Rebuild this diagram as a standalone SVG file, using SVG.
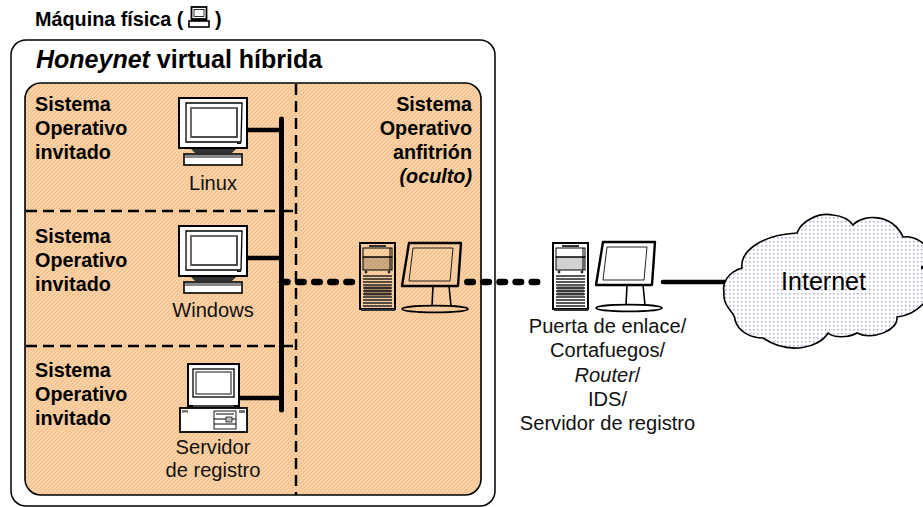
<svg xmlns="http://www.w3.org/2000/svg" xmlns:xlink="http://www.w3.org/1999/xlink" width="923" height="507" viewBox="0 0 923 507">
<style>
text{font-family:"Liberation Sans",Arial,sans-serif;fill:#000}
.b{font-weight:bold;font-size:19.8px}
.n{font-size:20.1px;text-anchor:middle;fill:#111}
.k{fill:none;stroke:#000}
.w{fill:#fff;stroke:#000}
.dash{fill:none;stroke:#000;stroke-width:2.5;stroke-dasharray:11 6}
</style>
<defs>
<pattern id="hatch" width="4" height="4" patternUnits="userSpaceOnUse">
<rect width="4" height="4" fill="#FFCF9E"/>
<path d="M-1 1L1 -1M0 4L4 0M3 5L5 3" stroke="#D2B998" stroke-width=".7"/>
</pattern>
<pattern id="dots" width="4" height="4" patternUnits="userSpaceOnUse">
<rect width="4" height="4" fill="#fff"/>
<rect x="1" y="1" width="1.5" height="1.5" fill="#A8A8D4"/>
</pattern>
<g id="crt">
<rect x="0" y="0" width="68" height="50" class="w" stroke-width="2"/>
<path d="M7 5H63L62 44H7Z" class="w" stroke-width="1.3"/>
<rect x="12" y="10" width="46" height="29" fill="#fff" stroke="#222" stroke-width="1.6"/>
<path d="M12 39V10H58" fill="none" stroke="#888" stroke-width="1"/>
<rect x="58" y="45" width="4" height="1" fill="#000"/>
</g>
<g id="tower">
<rect x="0" y="0" width="35" height="66" fill="none" stroke="#000" stroke-width="2"/>
<rect x="9" y="2" width="17" height="2" fill="#333"/>
<rect x="3" y="5" width="29" height="9" fill="none" stroke="#000" stroke-width="1"/>
<rect x="3" y="14" width="29" height="13" fill="#000" fill-opacity=".18" stroke="#000" stroke-width="1"/>
<path d="M30 5V27" stroke="#000" stroke-width="1"/>
<circle cx="6" cy="29" r="1.4" fill="#222"/><circle cx="29" cy="29" r="1.4" fill="#222"/>
<path d="M3 33H32M3 36H32M3 39H32M3 42H32M3 45H32M3 48H32M3 51H32M3 54H32M3 57H32M3 60H32M3 63H32" stroke="#222" stroke-width="1.6"/>
<rect x="4" y="43" width="27" height="10" fill="#000" fill-opacity=".35"/>
<rect x="1" y="66" width="34" height="2" fill="#333"/>
</g>
<g id="lcd">
<path d="M7 1H59L56 44H0Z" fill="none" stroke="#000" stroke-width="2.4" stroke-linejoin="round"/>
<path d="M11 6H51L48 39H7Z" fill="none" stroke="#222" stroke-width="1"/>
<path d="M31 44L30 64M47 44L49 64" class="k" stroke-width="1.6"/>
<ellipse cx="33" cy="67" rx="33" ry="3.4" fill="none" stroke="#000" stroke-width="1.6"/>
</g>
</defs>

<g id="title"><text x="35" y="26" class="b">Máquina física (<tspan x="215">)</tspan></text>
<g transform="translate(189,7)">
<rect x="2.5" y="0" width="15" height="12" fill="#fff" stroke="#000" stroke-width="1.8"/>
<rect x="5" y="2.5" width="10" height="7" fill="none" stroke="#000" stroke-width=".8"/>
<rect x="0" y="14" width="20" height="6" fill="#fff" stroke="#000" stroke-width="1.6"/>
<rect x="2" y="12" width="16" height="2" fill="#000"/>
</g></g>

<g id="honeynet">
<rect x="11" y="40" width="484" height="466" rx="15" fill="#fff" stroke="#000" stroke-width="1.5"/>
<text x="36" y="67.5" font-size="25" font-weight="bold"><tspan font-style="italic">Honeynet</tspan> virtual híbrida</text>
</g>
<g id="anfitrion">
<rect x="25" y="83" width="456" height="412" rx="16" fill="url(#hatch)" stroke="#000" stroke-width="1.6"/>
<text class="b" text-anchor="end"><tspan x="472" y="110.5">Sistema</tspan><tspan x="472" y="134.5">Operativo</tspan><tspan x="472" y="158.5">anfitrión</tspan><tspan x="472" y="182.5" font-style="italic">(oculto)</tspan></text>
</g>

<g id="connectors">
<path class="dash" d="M296 84V495M26 211H276M26 346H276M282 211H296M282 346H296"/>
<path d="M247 130H282M247 258H282M240 398H282" class="k" stroke-width="4.5"/>
<path d="M281.5 119V410" class="k" stroke-width="5" stroke-linecap="round"/>
<path d="M282 282H352M467.3 282H540" class="k" stroke-width="6.5" stroke-linecap="round" stroke-dasharray="5.5 10.6"/>
<path d="M663 282H726" class="k" stroke-width="4.5" stroke-linecap="round"/>
</g>

<g id="linux">
<text x="35" y="110.5" class="b">Sistema</text><text x="35" y="134.5" class="b">Operativo</text><text x="35" y="158.5" class="b">invitado</text>
<use xlink:href="#crt" href="#crt" x="179" y="98"/>
<path d="M191 149H236L232 153H195Z" fill="#333"/>
<rect x="184" y="154" width="58" height="11" fill="#fff" stroke="#000" stroke-width="1.6"/>
<rect x="185" y="155" width="56" height="3" fill="#888"/>
<text x="213" y="190" class="n">Linux</text>
</g>
<g id="windows">
<text x="35" y="242.5" class="b">Sistema</text><text x="35" y="266.5" class="b">Operativo</text><text x="35" y="290.5" class="b">invitado</text>
<use xlink:href="#crt" href="#crt" x="179" y="226"/>
<path d="M191 277H236L232 281H195Z" fill="#333"/>
<rect x="184" y="282" width="58" height="11" fill="#fff" stroke="#000" stroke-width="1.6"/>
<rect x="185" y="283" width="56" height="3" fill="#888"/>
<text x="213" y="316.5" class="n">Windows</text>
</g>
<g id="servidor-registro">
<text x="35" y="376.5" class="b">Sistema</text><text x="35" y="400.5" class="b">Operativo</text><text x="35" y="424.5" class="b">invitado</text>
<rect x="188" y="364" width="51" height="42" fill="#fff" stroke="#000" stroke-width="2"/>
<rect x="193" y="369" width="41" height="28" fill="#fff" stroke="#000" stroke-width="1.3"/>
<rect x="196" y="372" width="35" height="22" fill="#fff" stroke="#555" stroke-width="1.4"/>
<rect x="193" y="405" width="41" height="3" fill="#444"/>
<rect x="180" y="408" width="67" height="24" fill="#fff" stroke="#000" stroke-width="1.8"/>
<rect x="214" y="411" width="22" height="18" fill="#fff" stroke="#000" stroke-width=".9"/>
<path d="M216 414H234M214 419H236M214 424H236" stroke="#000" stroke-width="1"/>
<rect x="226" y="417" width="6" height="5" fill="#bbb" stroke="#000" stroke-width=".7"/>
<rect x="182" y="410" width="6" height="2.5" fill="#777"/><rect x="239" y="410" width="6" height="3" fill="#777"/>
<text x="213" y="454" class="n">Servidor</text><text x="213" y="477" class="n">de registro</text>
</g>
<g id="anfitrion-equipo">
<use xlink:href="#tower" href="#tower" x="360" y="243"/>
<use xlink:href="#lcd" href="#lcd" x="402" y="242"/>
</g>
<g id="puerta-enlace">
<use xlink:href="#tower" href="#tower" x="553" y="243"/>
<use xlink:href="#lcd" href="#lcd" x="596" y="241"/>
<text class="n"><tspan x="607.5" y="333">Puerta de enlace/</tspan><tspan x="607.5" y="357">Cortafuegos/</tspan><tspan x="607.5" y="381.5"><tspan font-style="italic">Router</tspan>/</tspan><tspan x="607.5" y="405.5">IDS/</tspan><tspan x="607.5" y="430">Servidor de registro</tspan></text>
</g>
<g id="internet">
<path d="M724 292C722 283 728 272 742 268C740 252 760 235 797 233C801 222 817 212 833 215C843 216 850 221 853 225C863 214 892 213 903 237C909 236 918 238 925 245V302C918 310 908 316 897 317C899 330 872 341 857 333C848 338 834 338 828 333C820 347 790 356 763 338C750 338 738 331 735 320C736 313 722 307 724 292Z" fill="url(#dots)" stroke="#000" stroke-width="1.6"/>
<rect x="921" y="266" width="2" height="3" fill="#000"/>
<text x="823.5" y="289.5" font-size="25" text-anchor="middle">Internet</text>
</g>
</svg>
